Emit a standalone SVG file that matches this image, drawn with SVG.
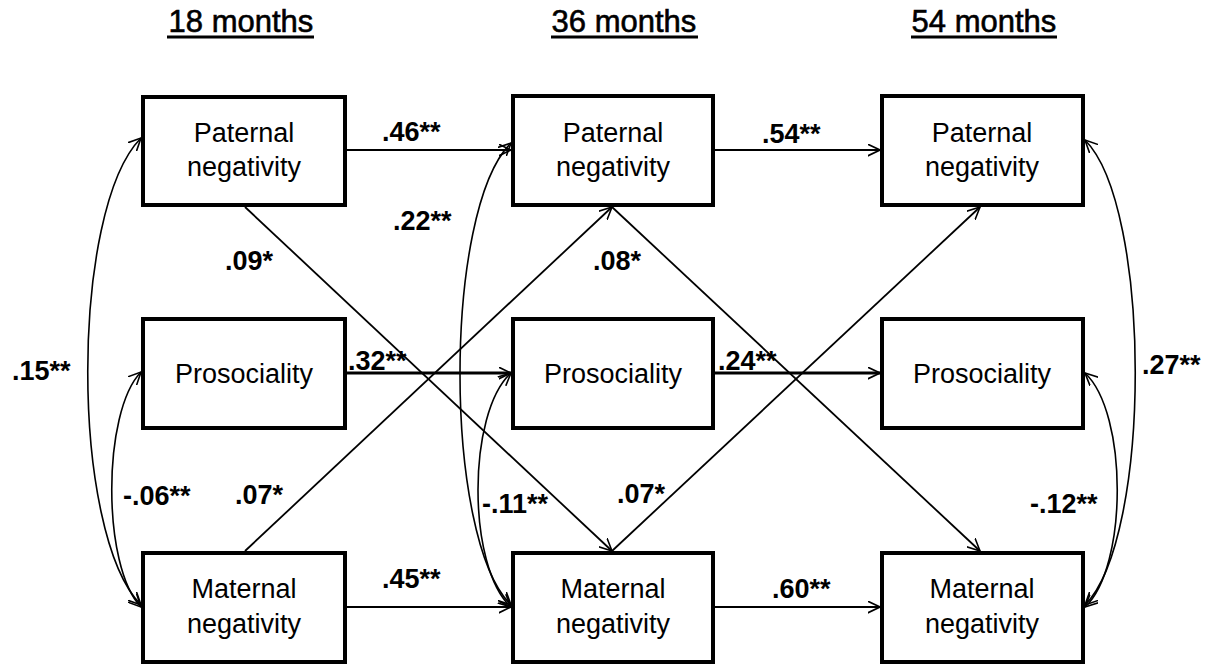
<svg xmlns="http://www.w3.org/2000/svg" width="1223" height="666" viewBox="0 0 1223 666">
<style>
.box{fill:#fff;stroke:#000;stroke-width:4}
.nt{font-family:"Liberation Sans",Arial,sans-serif;font-size:27px;text-anchor:middle;fill:#000}
.lb{font-family:"Liberation Sans",Arial,sans-serif;font-size:27px;font-weight:bold;fill:#000}
.hd{font-family:"Liberation Sans",Arial,sans-serif;font-size:31px;text-anchor:middle;fill:#000;stroke:#000;stroke-width:0.6}
.ul{stroke:#000;stroke-width:3}
.ar{fill:none;stroke:#000;stroke-width:1.8;marker-end:url(#ah)}
.ar2{fill:none;stroke:#000;stroke-width:3;marker-end:url(#ah)}
.cv{fill:none;stroke:#000;stroke-width:1.6;marker-start:url(#ah);marker-end:url(#ah)}
</style>
<defs>
<marker id="ah" viewBox="0 0 13 13" refX="12.5" refY="6.5" markerWidth="13" markerHeight="13" markerUnits="userSpaceOnUse" orient="auto-start-reverse">
<path d="M0,0.5 L12.5,6.5 L0,12.5" fill="none" stroke="#000" stroke-width="1.6"/>
</marker>
</defs>
<rect width="1223" height="666" fill="#fff"/>
<g id="headers">
<text class="hd" x="241" y="32">18 months</text>
<line class="ul" x1="167" y1="37" x2="314" y2="37"/>
<text class="hd" x="624" y="32">36 months</text>
<line class="ul" x1="551" y1="37" x2="698" y2="37"/>
<text class="hd" x="984" y="32">54 months</text>
<line class="ul" x1="911" y1="37" x2="1057" y2="37"/>
</g>
<g id="connectors">
<path class="ar" d="M347,150 L511,150"/>
<path class="ar2" d="M347,373 L511,373"/>
<path class="ar" d="M347,607 L511,607"/>
<path class="ar" d="M715,150 L880,150"/>
<path class="ar2" d="M715,373 L880,373"/>
<path class="ar" d="M715,607 L880,607"/>
<path class="ar" d="M245,207 L612,551"/>
<path class="ar" d="M245,551 L612,207"/>
<path class="ar" d="M612,207 L980,551"/>
<path class="ar" d="M612,551 L980,207"/>
<path class="cv" d="M141,138 C70,210 70,533 141,605"/>
<path class="cv" d="M141,372 C102,412 102,567 141,607"/>
<path class="cv" d="M511,143 C443,210 443,538 511,605"/>
<path class="cv" d="M511,373 C467,413 467,567 511,607"/>
<path class="cv" d="M1085,140 C1152,207 1152,538 1085,605"/>
<path class="cv" d="M1085,373 C1128,413 1128,567 1085,607"/>
</g>
<g id="labels">
<text class="lb" x="382" y="141">.46**</text>
<text class="lb" x="393" y="230">.22**</text>
<text class="lb" x="225" y="270">.09*</text>
<text class="lb" x="12" y="380">.15**</text>
<text class="lb" x="348" y="370">.32**</text>
<text class="lb" x="123" y="505">-.06**</text>
<text class="lb" x="235" y="504">.07*</text>
<text class="lb" x="382" y="588">.45**</text>
<text class="lb" x="762" y="143">.54**</text>
<text class="lb" x="593" y="270">.08*</text>
<text class="lb" x="718" y="370">.24**</text>
<text class="lb" x="482" y="513">-.11**</text>
<text class="lb" x="617" y="503">.07*</text>
<text class="lb" x="772" y="598">.60**</text>
<text class="lb" x="1142" y="374">.27**</text>
<text class="lb" x="1030" y="513">-.12**</text>
</g>
<g id="pat18"><rect class="box" x="143" y="97" width="202" height="108"/><text class="nt" x="244" y="142">Paternal</text><text class="nt" x="244" y="176">negativity</text></g>
<g id="pro18"><rect class="box" x="143" y="319" width="202" height="109"/><text class="nt" x="244" y="383">Prosociality</text></g>
<g id="mat18"><rect class="box" x="143" y="553" width="202" height="109"/><text class="nt" x="244" y="598">Maternal</text><text class="nt" x="244" y="633">negativity</text></g>
<g id="pat36"><rect class="box" x="513" y="96" width="200" height="109"/><text class="nt" x="613" y="142">Paternal</text><text class="nt" x="613" y="176">negativity</text></g>
<g id="pro36"><rect class="box" x="513" y="319" width="200" height="109"/><text class="nt" x="613" y="383">Prosociality</text></g>
<g id="mat36"><rect class="box" x="513" y="553" width="200" height="109"/><text class="nt" x="613" y="598">Maternal</text><text class="nt" x="613" y="633">negativity</text></g>
<g id="pat54"><rect class="box" x="882" y="96" width="201" height="109"/><text class="nt" x="982" y="142">Paternal</text><text class="nt" x="982" y="176">negativity</text></g>
<g id="pro54"><rect class="box" x="882" y="319" width="201" height="109"/><text class="nt" x="982" y="383">Prosociality</text></g>
<g id="mat54"><rect class="box" x="882" y="553" width="201" height="109"/><text class="nt" x="982" y="598">Maternal</text><text class="nt" x="982" y="633">negativity</text></g>
</svg>
